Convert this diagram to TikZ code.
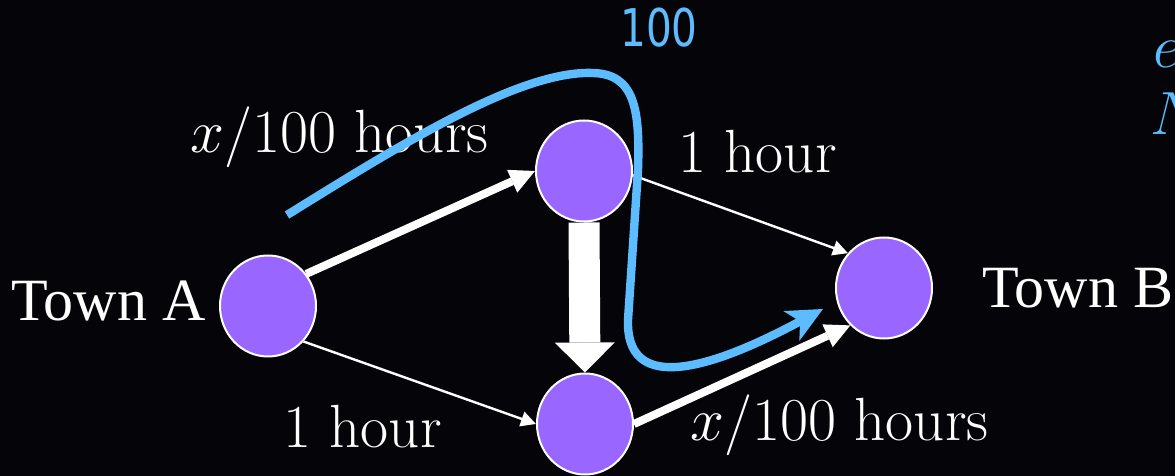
\RequirePackage{fix-cm}
\documentclass[tikz,border=0pt]{standalone}
\usepackage{fontspec}
\usepackage{xcolor}
\usepackage{graphicx}
\usepackage{tikz}
\usetikzlibrary{shapes.geometric, arrows.meta, positioning}

\newfontfamily\townfont{Liberation Serif}
\newfontfamily\flowfont{DejaVu Sans}
\definecolor{bgblack}{HTML}{050509}
\definecolor{townpurple}{HTML}{9966FF}
\definecolor{flowblue}{HTML}{5CBCFF}

\begin{document}
\begin{tikzpicture}[x=0.5pt, y=-0.5pt, font=\fontsize{30.5}{36}\selectfont]

\tikzstyle{town} = [ellipse, minimum width=48pt, minimum height=50.5pt, fill=townpurple, draw=white, line width=1pt, inner sep=0pt]
\tikzstyle{timelabel} = [text=white, inner sep=0pt, anchor=base west]
\tikzstyle{bluetext} = [text=flowblue, inner sep=0pt, anchor=base west]
\tikzstyle{thin arrow} = [draw=white, line width=1.2pt, -{Triangle[length=7.5pt, width=7.5pt]}]
\tikzstyle{thick arrow} = [draw=white, line width=4pt, -{Triangle[length=12.5pt, width=12.5pt, line width=0pt]}]

\useasboundingbox (0,0) rectangle (1175,476);
\fill [bgblack] (0,0) rectangle (1175,476);
\clip (0,0) rectangle (1175,476);

% the four towns
\node (a) [town] at (268,306) {};
\node (up) [town] at (584,171) {};
\node (down) [town] at (585,424) {};
\node (b) [town] at (884,288) {};

\node (nameA) [timelabel, anchor=base east] at (206,321) {\townfont\fontsize{30}{36}\selectfont Town A};
\node (nameB) [timelabel] at (982,307) {\townfont\fontsize{30}{36}\selectfont Town B};

\node (costAU) [timelabel] at (190,153) {$x/100$ hours};
\node (costUB) [timelabel] at (678,173) {1 hour};
\node (costAD) [timelabel] at (283,448) {1 hour};
\node (costDB) [timelabel] at (690,441) {$x/100$ hours};

\node (flow) [bluetext] at (620,47) {\flowfont\fontsize{26}{30}\selectfont\scalebox{0.78}[1]{100}};
\node (eqe) [bluetext] at (1153,68) {$e$};
\node (eqN) [bluetext] at (1150,135) {$N$};

% roads
\draw [thick arrow] (a.40) -- (up.west);
\draw [thin arrow] (a.-45) -- (down.west);
\draw [thin arrow] (up.-5) -- (b.136);
\draw [thick arrow] (down.east) -- (b.228);
\draw [draw=white, line width=15.5pt, -{Triangle[length=15pt, width=30pt, line width=0pt]}] (up.south) -- (down.north);

% traffic flow
\coordinate (flowstart) at (287,215);
\coordinate (flowend) at (823,309);
\draw [draw=flowblue, line width=4.2pt, -{Stealth[length=18pt, width=17pt, inset=5pt, line width=0pt]}] (flowstart) .. controls (400,145) and (520,70) .. (593,73) .. controls (635,74) and (640,110) .. (638,170) -- (628,320) .. controls (626,390) and (700,375) .. (flowend);

\end{tikzpicture}
\end{document}
